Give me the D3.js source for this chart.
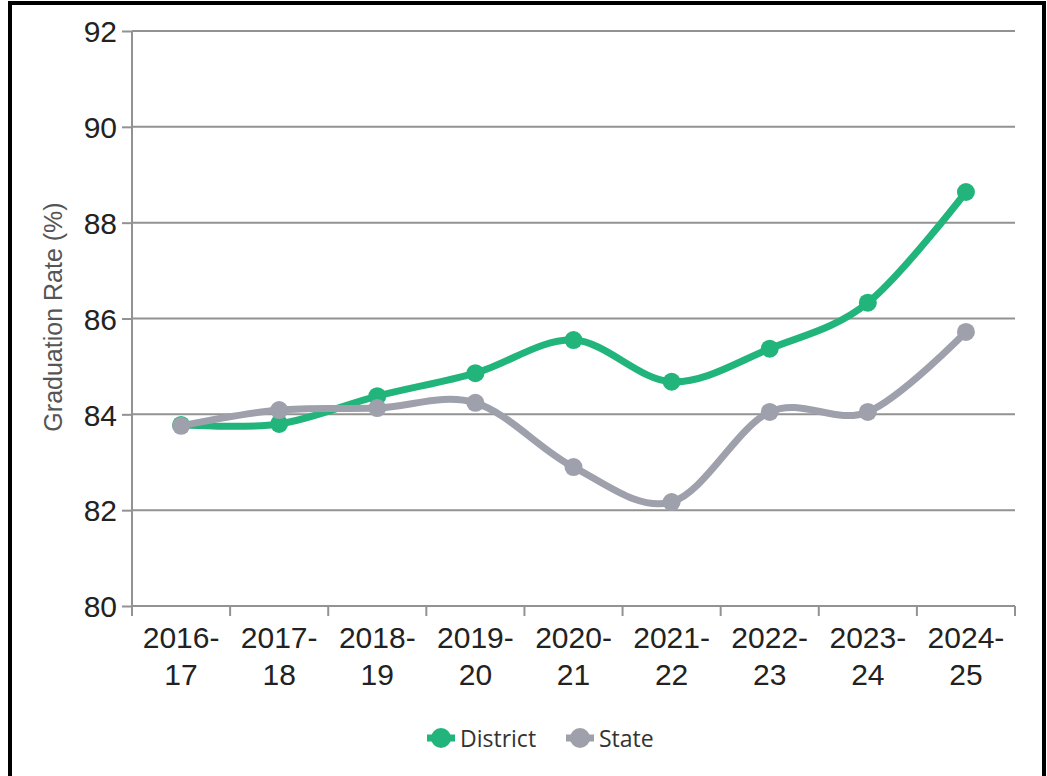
<!DOCTYPE html>
<html>
<head>
<meta charset="utf-8">
<script src="https://cdn.jsdelivr.net/npm/d3@7"></script>
<style>
  body { margin: 0; background: #fff; }
  .axis text { font-family: "Liberation Sans", Arial, sans-serif; fill: #222; }
</style>
</head>
<body>
<script>
// chart data
var years = ["2016-17", "2017-18", "2018-19", "2019-20", "2020-21", "2021-22", "2022-23", "2023-24", "2024-25"];
var district = [83.78, 83.80, 84.38, 84.86, 85.55, 84.68, 85.37, 86.33, 88.64];
var state = [83.76, 84.09, 84.13, 84.24, 82.90, 82.17, 84.05, 84.05, 85.72];
var yTicks = [80, 82, 84, 86, 88, 90, 92];
var seriesNames = ["District", "State"];
var colors = ["#21b57b", "#9ea0ab"];

var W = 1047, H = 776;
var margin = {top: 31, right: 32, bottom: 170, left: 132};
var width = W - margin.left - margin.right,
    height = H - margin.top - margin.bottom;

var svg = d3.select("body").append("svg")
    .attr("width", W)
    .attr("height", H);

// frame
svg.append("rect")
    .attr("x", 10).attr("y", 3)
    .attr("width", 1034).attr("height", 800)
    .attr("fill", "none")
    .attr("stroke", "#000")
    .attr("stroke-width", 4);

var g = svg.append("g")
    .attr("transform", "translate(" + margin.left + "," + margin.top + ")");

var x = d3.scaleBand().domain(years).range([0, width]);
var y = d3.scaleLinear().domain([80, 92]).range([height, 0]);

// grid
g.selectAll(".grid")
    .data(yTicks.slice(1))
  .enter().append("line")
    .attr("x1", 0).attr("x2", width)
    .attr("y1", function(d) { return y(d); })
    .attr("y2", function(d) { return y(d); })
    .attr("stroke", "#929292")
    .attr("stroke-width", 2);

// y axis
var yAxis = g.append("g")
    .attr("class", "axis")
    .call(d3.axisLeft(y).tickValues(yTicks).tickSize(10).tickPadding(5));
yAxis.selectAll("text").style("font-size", "30px").attr("dy", "0.36em");
yAxis.selectAll("line, path").attr("stroke", "#929292").attr("stroke-width", 2);
yAxis.select(".domain").attr("d", "M0," + height + "V0");

// x axis with ticks on band edges
var xAxis = g.append("g")
    .attr("class", "axis")
    .attr("transform", "translate(0," + height + ")")
    .call(d3.axisBottom(x).tickSize(0).tickPadding(0));
xAxis.select(".domain").attr("stroke", "#929292").attr("stroke-width", 2)
    .attr("d", "M0,0H" + width);
xAxis.selectAll(".tick line").remove();
xAxis.selectAll(".tick text").each(function(d) {
  var t = d3.select(this).text("").attr("y", 0).attr("dy", null).style("font-size", "30px");
  var parts = d.split("-");
  t.append("tspan").attr("x", 0).attr("y", 42).text(parts[0] + "-");
  t.append("tspan").attr("x", 0).attr("y", 79).text(parts[1]);
});
var edges = years.map(function(d) { return x(d); }).concat([width]);
xAxis.selectAll(".edge")
    .data(edges)
  .enter().append("line")
    .attr("x1", function(d) { return d; })
    .attr("x2", function(d) { return d; })
    .attr("y1", 0).attr("y2", 10)
    .attr("stroke", "#929292")
    .attr("stroke-width", 2);

// y label
svg.append("text")
    .attr("transform", "translate(62,317) rotate(-90)")
    .attr("text-anchor", "middle")
    .style("font-family", "'Liberation Sans', Arial, sans-serif")
    .style("font-size", "25px")
    .attr("fill", "#555")
    .text("Graduation Rate (%)");

// lines
var line = d3.line()
    .x(function(d, i) { return x(years[i]) + x.bandwidth() / 2; })
    .y(function(d) { return y(d); })
    .curve(d3.curveCatmullRom.alpha(0));

var series = [district, state];

// district first, state drawn on top
[0, 1].forEach(function(s) {
  g.append("path")
      .datum(series[s])
      .attr("d", line)
      .attr("fill", "none")
      .attr("stroke", colors[s])
      .attr("stroke-width", 7)
      .attr("stroke-linejoin", "round");
  g.selectAll(".dot" + s)
      .data(series[s])
    .enter().append("circle")
      .attr("cx", function(d, i) { return x(years[i]) + x.bandwidth() / 2; })
      .attr("cy", function(d) { return y(d); })
      .attr("r", 9)
      .attr("fill", colors[s]);
});

// legend
var legX = [441, 580];
var leg = svg.selectAll(".leg")
    .data(seriesNames)
  .enter().append("g")
    .attr("transform", function(d, i) { return "translate(" + legX[i] + ",738)"; });
leg.append("line")
    .attr("x1", -14).attr("x2", 14)
    .attr("stroke", function(d, i) { return colors[i]; })
    .attr("stroke-width", 7);
leg.append("circle")
    .attr("r", 10)
    .attr("fill", function(d, i) { return colors[i]; });
leg.append("text")
    .attr("x", 19).attr("y", 9)
    .style("font-family", "'Open Sans', sans-serif")
    .style("font-size", "23px")
    .attr("fill", "#333")
    .text(function(d) { return d; });
</script>
</body>
</html>
